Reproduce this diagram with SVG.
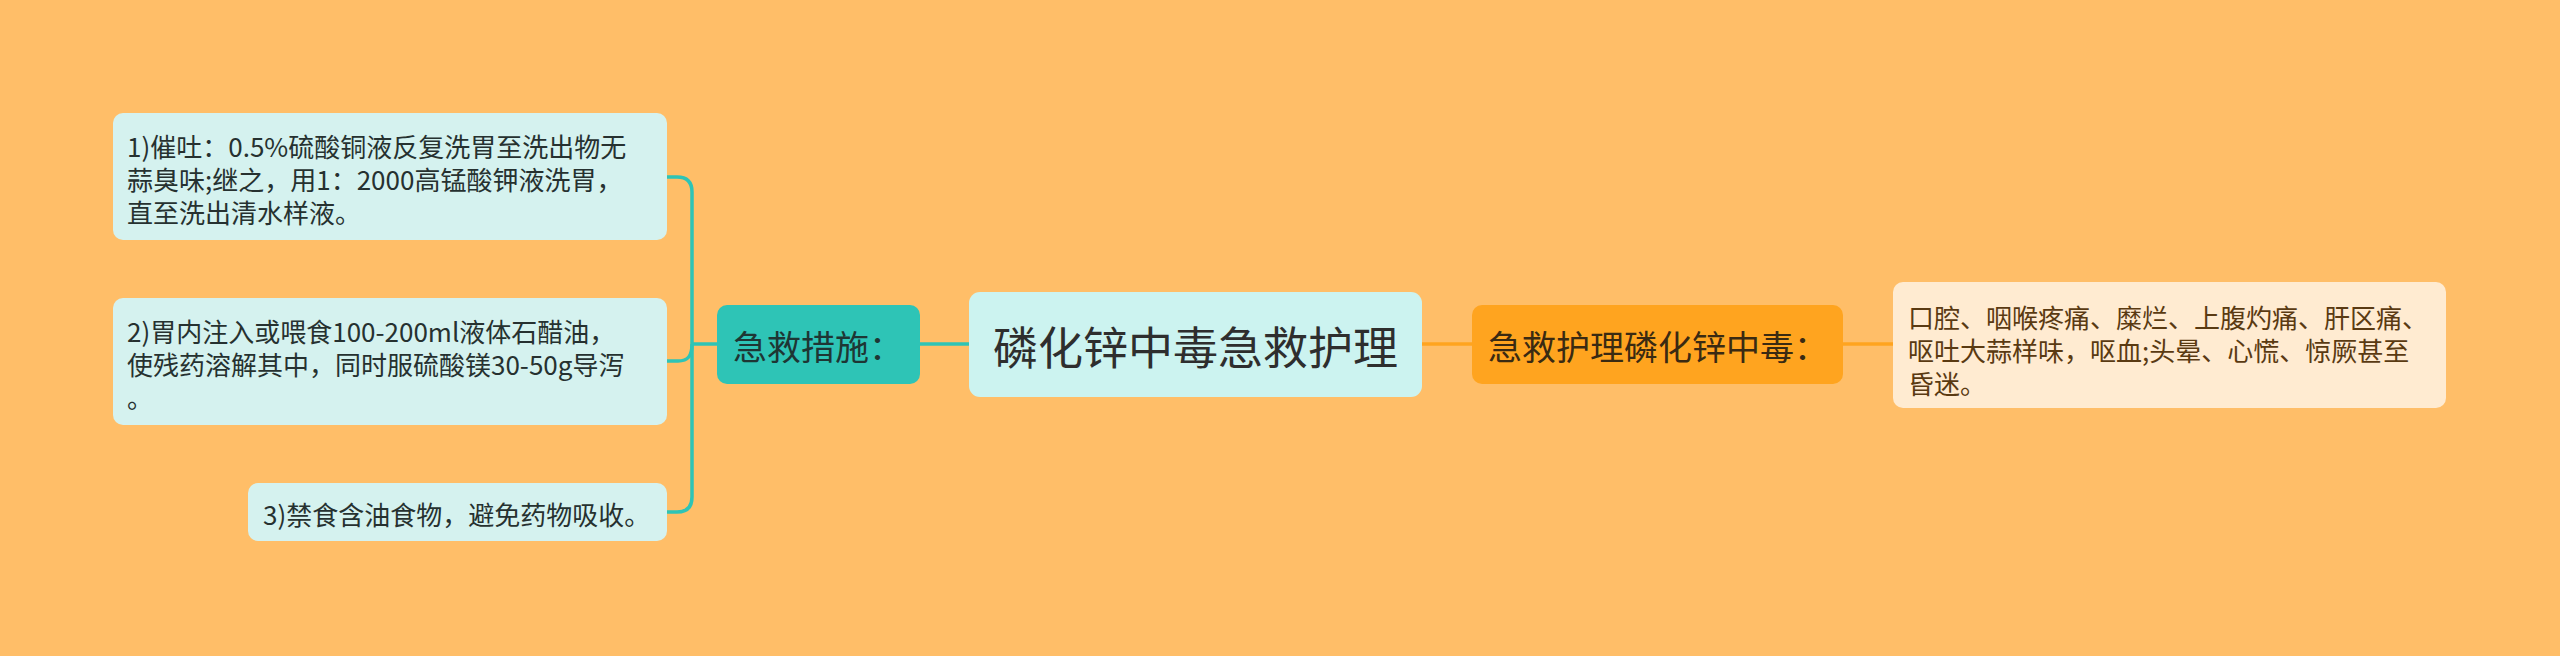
<svg xmlns="http://www.w3.org/2000/svg" width="2560" height="656" viewBox="0 0 2560 656">
<style>
text{font-family:"Noto Sans CJK SC","Noto Sans",sans-serif;dominant-baseline:central}
.leaf rect{fill:#D5F2EF}
.leaf text{font-size:26px;fill:#263130}
.teal{fill:none;stroke:#2EC4B6;stroke-width:3.5}
.org{fill:none;stroke:#FFA41F;stroke-width:3.5}
</style>
<rect width="2560" height="656" fill="#FFBE68"/>
<g id="connectors">
<path class="teal" d="M970 344 H917"/>
<path class="teal" d="M719 344 H692"/>
<path class="teal" d="M692 344 V192 Q692 177 677 177 H665"/>
<path class="teal" d="M692 344 C692 356 688 361 678 361 H665"/>
<path class="teal" d="M692 344 V497 Q692 512 677 512 H665"/>
<path class="org" d="M1420 344 H1473"/>
<path class="org" d="M1841 344 H1895"/>
</g>
<g id="root">
<rect x="969" y="292" width="453" height="105" rx="11" fill="#CCF3F0"/>
<text x="1195.5" y="345" font-size="45" fill="#2E2E2E" text-anchor="middle">磷化锌中毒急救护理</text>
</g>
<g id="measures">
<rect x="717" y="305" width="203" height="79" rx="10" fill="#2EC4B6"/>
<text x="733" y="345" font-size="34" fill="#1E3634">急救措施：</text>
</g>
<g id="leaf1" class="leaf">
<rect x="113" y="113" width="554" height="127" rx="10"/>
<text x="127" y="145">1)催吐：0.5%硫酸铜液反复洗胃至洗出物无</text>
<text x="127" y="178">蒜臭味;继之，用1：2000高锰酸钾液洗胃，</text>
<text x="127" y="211">直至洗出清水样液。</text>
</g>
<g id="leaf2" class="leaf">
<rect x="113" y="298" width="554" height="127" rx="10"/>
<text x="127" y="330">2)胃内注入或喂食100-200ml液体石醋油，</text>
<text x="127" y="363">使残药溶解其中，同时服硫酸镁30-50g导泻</text>
<text x="127" y="396">。</text>
</g>
<g id="leaf3" class="leaf">
<rect x="248" y="483" width="419" height="58" rx="10"/>
<text x="263" y="513">3)禁食含油食物，避免药物吸收。</text>
</g>
<g id="symptoms-title">
<rect x="1472" y="305" width="371" height="79" rx="10" fill="#FFA41F"/>
<text x="1488" y="345" font-size="34" fill="#3A2A12">急救护理磷化锌中毒：</text>
</g>
<g id="symptoms">
<rect x="1893" y="282" width="553" height="126" rx="10" fill="#FFEBD1"/>
<text x="1908" y="316" font-size="26" fill="#5A3A12">口腔、咽喉疼痛、糜烂、上腹灼痛、肝区痛、</text>
<text x="1908" y="349" font-size="26" fill="#5A3A12">呕吐大蒜样味，呕血;头晕、心慌、惊厥甚至</text>
<text x="1908" y="382" font-size="26" fill="#5A3A12">昏迷。</text>
</g>
</svg>
